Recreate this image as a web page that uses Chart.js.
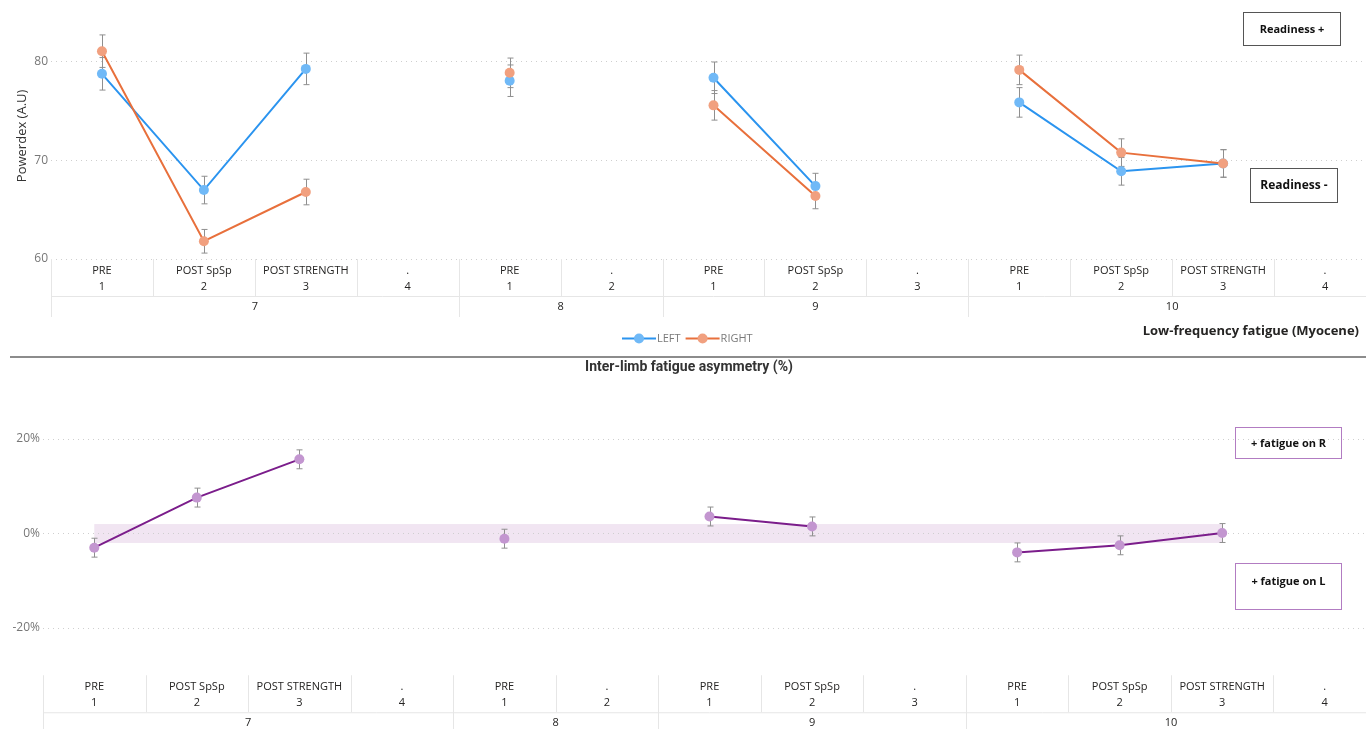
<!DOCTYPE html>
<html>
<head>
<meta charset="utf-8">
<script src="https://cdn.jsdelivr.net/npm/chart.js@4.4.1/dist/chart.umd.min.js"></script>
<style>
  html, body { margin: 0; padding: 0; background: #fff; }
  body { width: 1366px; height: 729px; position: relative; overflow: hidden; font-family: 'Open Sans', sans-serif; }
  canvas { position: absolute; left: 0; }
  #powerCanvas { top: 0; }
  #asymCanvas { top: 358px; }
  .sep { position: absolute; left: 10px; top: 356px; width: 1356px; height: 2px; background: #8c8c8c; }
  .box { position: absolute; box-sizing: border-box; font-weight: 700; color: #111; text-align: center; font-size: 11px; }
  .box.dark { border: 1.5px solid #555; }
  .box.purple { border: 1.5px solid #b27cc2; }
  .caption { position: absolute; font-weight: 700; color: #252423; white-space: nowrap; }
</style>
</head>
<body>
<canvas id="powerCanvas" width="1376" height="355"></canvas>
<div class="sep"></div>
<canvas id="asymCanvas" width="1376" height="371"></canvas>

<div class="caption" style="right:7px; top:321px; font-size:13px;">Low-frequency fatigue (Myocene)</div>
<div class="caption" style="left:0; width:1378px; text-align:center; top:358px; font-size:14px; font-family:Roboto, sans-serif; color:#333;">Inter-limb fatigue asymmetry (%)</div>

<div class="box dark" style="left:1243px; top:12px; width:98px; height:34px; line-height:31px;">Readiness +</div>
<div class="box dark" style="left:1250px; top:168px; width:88px; height:35px; line-height:32px; font-size:12px;">Readiness -</div>
<div class="box purple" style="left:1235px; top:427px; width:107px; height:32px; line-height:29px;">+ fatigue on R</div>
<div class="box purple" style="left:1235px; top:563px; width:107px; height:47px; padding-top:9px;">+ fatigue on L</div>

<script>
// categories: session / step / phase
const phaseLabels = ['PRE', 'POST SpSp', 'POST STRENGTH', '.', 'PRE', '.', 'PRE', 'POST SpSp', '.', 'PRE', 'POST SpSp', 'POST STRENGTH', '.'];
const stepLabels = ['1', '2', '3', '4', '1', '2', '1', '2', '3', '1', '2', '3', '4'];
const sessionLabels = ['7', '7', '7', '7', '8', '8', '9', '9', '9', '10', '10', '10', '10'];

// Powerdex (A.U)
const leftValues = [78.8, 67.0, 79.3, null, 78.1, null, 78.4, 67.4, null, 75.9, 68.9, 69.7, null];
const leftErrors = [1.65, 1.4, 1.6, null, 1.6, null, 1.6, 1.3, null, 1.5, 1.4, 1.4, null];
const rightValues = [81.1, 61.8, 66.8, null, 78.9, null, 75.6, 66.4, null, 79.2, 70.8, 69.7, null];
const rightErrors = [1.65, 1.2, 1.3, null, 1.5, null, 1.5, 1.3, null, 1.5, 1.4, 1.4, null];
const powerTicks = [60, 70, 80];

// Inter-limb asymmetry (%)
const asymValues = [-3.0, 7.6, 15.7, null, -1.1, null, 3.6, 1.5, null, -4.0, -2.5, 0.1, null];
const asymErrors = [2.0, 2.0, 2.0, null, 2.0, null, 2.0, 2.0, null, 2.0, 2.0, 2.0, null];
const asymTicks = [-20, 0, 20];
const asymBand = [-2, 2];

const labelFont = '11px "Open Sans", sans-serif';

// two-row category axis drawn under the plot
const hierAxis = {
  id: 'hierAxis',
  afterDraw(chart) {
    const { ctx, chartArea } = chart;
    const xs = chart.scales.x;
    const n = phaseLabels.length;
    const half = (xs.getPixelForValue(1) - xs.getPixelForValue(0)) / 2;
    const b = chartArea.bottom;
    ctx.save();
    ctx.strokeStyle = '#e6e6e6';
    ctx.lineWidth = 1;
    ctx.beginPath();
    ctx.moveTo(chartArea.left, b + 37.5);
    ctx.lineTo(chartArea.right, b + 37.5);
    for (let i = 0; i < n; i++) {
      const edge = Math.round(xs.getPixelForValue(i) - half) + 0.5;
      const newGroup = i === 0 || sessionLabels[i] !== sessionLabels[i - 1];
      ctx.moveTo(edge, b);
      ctx.lineTo(edge, b + (newGroup ? 58 : 37));
    }
    ctx.stroke();

    ctx.fillStyle = '#252423';
    ctx.font = labelFont;
    ctx.textAlign = 'center';
    ctx.textBaseline = 'middle';
    for (let i = 0; i < n; i++) {
      const cx = xs.getPixelForValue(i);
      ctx.fillText(phaseLabels[i], cx, b + 12);
      ctx.fillText(stepLabels[i], cx, b + 27.5);
    }
    let start = 0;
    for (let i = 1; i <= n; i++) {
      if (i === n || sessionLabels[i] !== sessionLabels[start]) {
        const cx = (xs.getPixelForValue(start) + xs.getPixelForValue(i - 1)) / 2;
        ctx.fillText(sessionLabels[start], cx, b + 47.5);
        start = i;
      }
    }
    ctx.restore();
  }
};

// vertical error bars from each dataset's errors array
const errorBars = {
  id: 'errorBars',
  beforeDatasetsDraw(chart) {
    const { ctx } = chart;
    const ys = chart.scales.y;
    ctx.save();
    ctx.strokeStyle = '#8f8f8f';
    ctx.lineWidth = 1;
    chart.data.datasets.forEach((ds, di) => {
      if (!ds.errors) return;
      const meta = chart.getDatasetMeta(di);
      ds.data.forEach((v, i) => {
        if (v === null || ds.errors[i] === null) return;
        const x = Math.round(meta.data[i].x) + 0.5;
        const y1 = ys.getPixelForValue(v + ds.errors[i]);
        const y2 = ys.getPixelForValue(v - ds.errors[i]);
        ctx.beginPath();
        ctx.moveTo(x, y1); ctx.lineTo(x, y2);
        ctx.moveTo(x - 3, y1); ctx.lineTo(x + 3, y1);
        ctx.moveTo(x - 3, y2); ctx.lineTo(x + 3, y2);
        ctx.stroke();
      });
    });
    ctx.restore();
  }
};

// shaded tolerance band behind the asymmetry line
const bandPlugin = {
  id: 'band',
  beforeDraw(chart) {
    if (!chart.options.plugins.band) return;
    const { ctx } = chart;
    const xs = chart.scales.x, ys = chart.scales.y;
    const idx = asymValues.map((v, i) => v === null ? -1 : i).filter(i => i >= 0);
    const x1 = xs.getPixelForValue(idx[0]);
    const x2 = xs.getPixelForValue(idx[idx.length - 1]);
    const yTop = ys.getPixelForValue(asymBand[1]);
    const yBot = ys.getPixelForValue(asymBand[0]);
    ctx.save();
    ctx.fillStyle = '#f1e5f2';
    ctx.fillRect(x1, yTop, x2 - x1, yBot - yTop);
    ctx.restore();
  }
};

// legend with line + dot markers
const lineLegend = {
  id: 'lineLegend',
  afterDraw(chart) {
    if (!chart.options.plugins.lineLegend) return;
    const { ctx } = chart;
    const y = 338.5;
    let x = 622;
    ctx.save();
    ctx.font = labelFont;
    ctx.textBaseline = 'middle';
    ctx.textAlign = 'left';
    chart.data.datasets.forEach(ds => {
      ctx.strokeStyle = ds.borderColor;
      ctx.lineWidth = 2;
      ctx.beginPath();
      ctx.moveTo(x, y); ctx.lineTo(x + 34, y);
      ctx.stroke();
      ctx.fillStyle = ds.pointBackgroundColor;
      ctx.beginPath();
      ctx.arc(x + 17, y, 5, 0, Math.PI * 2);
      ctx.fill();
      ctx.fillStyle = '#7a7a7a';
      ctx.fillText(ds.label, x + 35, y);
      x += 35 + ctx.measureText(ds.label).width + 5;
    });
    ctx.restore();
  }
};

function baseOptions(yMin, yMax, ticks, yWidth, xHeight, padTop, tickFmt, yTitle) {
  return {
    responsive: false,
    animation: false,
    layout: { autoPadding: false, padding: { top: padTop, left: 0, right: 0, bottom: 0 } },
    plugins: { legend: { display: false }, tooltip: { enabled: false } },
    scales: {
      x: {
        type: 'category',
        offset: true,
        grid: { display: false },
        border: { display: false },
        ticks: { display: false },
        afterFit(scale) { scale.height = xHeight; scale.paddingLeft = 0; scale.paddingRight = 0; }
      },
      y: {
        min: yMin,
        max: yMax,
        afterBuildTicks(scale) { scale.ticks = ticks.map(v => ({ value: v })); },
        afterFit(scale) { scale.width = yWidth; },
        grid: { color: '#cfcfcf', drawTicks: false, lineWidth: 1 },
        border: { display: false, dash: [1, 4] },
        ticks: {
          padding: 3,
          color: '#777',
          font: { family: 'Open Sans', size: 12 },
          callback: tickFmt
        },
        title: yTitle
      }
    }
  };
}

const powerOpts = baseOptions(60, 85, powerTicks, 51, 96, 12.75, v => v,
  { display: true, text: 'Powerdex (A.U)', color: '#333', font: { family: 'Open Sans', size: 13 }, padding: { top: 14, bottom: 0 } });
powerOpts.plugins.lineLegend = true;

new Chart(document.getElementById('powerCanvas'), {
  type: 'line',
  data: {
    labels: phaseLabels,
    datasets: [
      {
        label: 'LEFT',
        data: leftValues,
        errors: leftErrors,
        borderColor: '#2b94ef',
        pointBackgroundColor: '#70b9f7',
        pointBorderWidth: 0,
        pointRadius: 5,
        borderWidth: 2,
        order: 1
      },
      {
        label: 'RIGHT',
        data: rightValues,
        errors: rightErrors,
        borderColor: '#e8703c',
        pointBackgroundColor: '#f1a07f',
        pointBorderWidth: 0,
        pointRadius: 5,
        borderWidth: 2,
        order: 0
      }
    ]
  },
  options: powerOpts,
  plugins: [hierAxis, errorBars, lineLegend]
});

const asymOpts = baseOptions(-30, 30, asymTicks, 43, 53.75, 33.75, v => v + '%', { display: false });
asymOpts.plugins.band = true;

new Chart(document.getElementById('asymCanvas'), {
  type: 'line',
  data: {
    labels: phaseLabels,
    datasets: [
      {
        label: 'Asymmetry',
        data: asymValues,
        errors: asymErrors,
        borderColor: '#7b1d8b',
        pointBackgroundColor: '#c396d0',
        pointBorderWidth: 0,
        pointRadius: 5,
        borderWidth: 2
      }
    ]
  },
  options: asymOpts,
  plugins: [bandPlugin, hierAxis, errorBars]
});
</script>
</body>
</html>
